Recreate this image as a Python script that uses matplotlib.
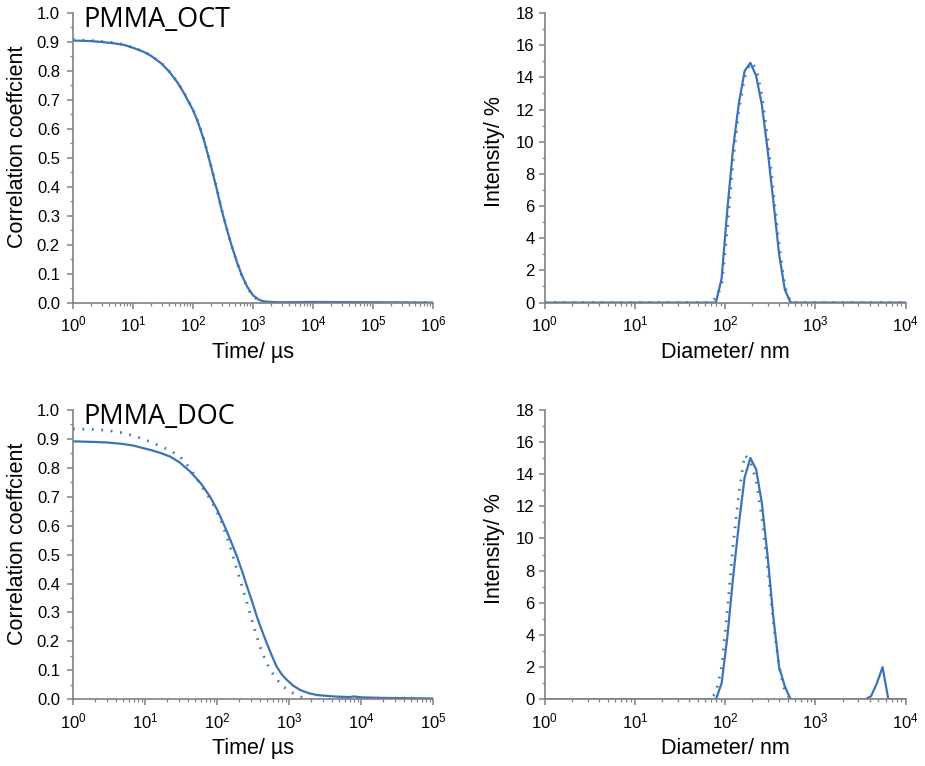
import numpy as np
import matplotlib.pyplot as plt
from matplotlib.ticker import LogLocator, MultipleLocator, NullFormatter

plt.rcParams['font.family'] = ['Liberation Sans', 'DejaVu Sans']
plt.rcParams['mathtext.fontset'] = 'custom'
plt.rcParams['mathtext.rm'] = 'Liberation Sans'

# correlation functions, PMMA_OCT
t_oct = [1, 2, 3, 5, 7, 10, 15, 20, 30, 40, 55, 70, 85, 100, 120, 150, 175, 200, 250, 300,
         370, 450, 550, 650, 800, 1000, 1250, 1500, 2000, 3000, 1e4, 1e5, 1e6]
g_oct_meas = [0.905, 0.903, 0.900, 0.895, 0.890, 0.880, 0.866, 0.852, 0.825, 0.798, 0.760, 0.725,
              0.692, 0.665, 0.625, 0.565, 0.515, 0.470, 0.390, 0.320, 0.250, 0.190, 0.135, 0.095,
              0.055, 0.025, 0.010, 0.004, 0.002, 0.001, 0.002, 0.001, 0.0]
g_oct_fit = [0.908, 0.905, 0.902, 0.897, 0.891, 0.881, 0.867, 0.853, 0.826, 0.799, 0.762, 0.727,
             0.694, 0.667, 0.627, 0.567, 0.517, 0.472, 0.392, 0.322, 0.252, 0.190, 0.134, 0.093,
             0.052, 0.022, 0.007, 0.002, 0.0, 0.0, 0.0, 0.0, 0.0]

# correlation functions, PMMA_DOC
t_doc = [1, 2, 3, 5, 7, 10, 12, 16, 22.5, 30, 42.6, 60, 80, 100, 123, 155, 190, 225, 261, 310,
         359, 420, 493, 580, 678, 800, 937, 1150, 1440, 1900, 2450, 3750, 5000, 7000, 8000,
         1e4, 2e4, 5e4, 1e5]
g_doc_meas = [0.891, 0.889, 0.887, 0.882, 0.876, 0.866, 0.861, 0.852, 0.838, 0.819, 0.786, 0.745,
              0.700, 0.656, 0.607, 0.548, 0.492, 0.440, 0.390, 0.335, 0.285, 0.238, 0.193, 0.150,
              0.112, 0.085, 0.067, 0.047, 0.032, 0.021, 0.015, 0.011, 0.009, 0.008, 0.010,
              0.007, 0.005, 0.004, 0.003]
t_doc_fit = [1, 2, 3, 5, 7, 10, 13, 18, 24, 31, 38, 47, 60, 81, 111, 153, 180, 210, 250, 288,
             340, 397, 470, 550, 700, 841, 1150, 1590, 2000, 1e4, 1e5]
g_doc_fit = [0.934, 0.932, 0.929, 0.920, 0.910, 0.897, 0.885, 0.870, 0.855, 0.837, 0.812, 0.780,
             0.740, 0.690, 0.625, 0.526, 0.465, 0.411, 0.350, 0.297, 0.235, 0.181, 0.135, 0.101,
             0.065, 0.043, 0.021, 0.005, 0.0, 0.0, 0.0]

# intensity size distributions
d_oct = [1, 68.06, 78.82, 91.28, 105.7, 122.4, 141.8, 164.2, 190.1, 220.2, 255.0, 295.3, 342.0,
         396.1, 458.7, 531.2, 615.1, 10000]
i_oct_meas = [0, 0, 0, 1.5, 5.8, 9.6, 12.4, 14.4, 14.9, 14.1, 12.3, 9.5, 6.3, 3.0, 0.8, 0, 0, 0]
i_oct_fit = [0, 0, 0.3, 1.0, 4.6, 8.8, 12.0, 14.0, 14.9, 14.6, 12.9, 10.2, 6.9, 3.6, 1.0, 0, 0, 0]

d_doc = [1, 68.06, 78.82, 91.28, 105.7, 122.4, 141.8, 164.2, 190.1, 220.2, 255.0, 295.3, 342.0,
         396.1, 458.7, 531.2, 615.1, 3091, 3580, 4145, 4801, 5560, 6439, 7456, 10000]
i_doc_meas = [0, 0, 0, 1.0, 3.9, 7.6, 10.9, 13.8, 15.0, 14.3, 12.2, 8.9, 5.1, 2.0, 0.8, 0, 0,
              0, 0, 0.2, 1.0, 2.0, 0, 0, 0]
d_doc_fit = [1, 68.06, 78.82, 91.28, 105.7, 122.4, 141.8, 164.2, 190.1, 220.2, 255.0, 295.3,
             342.0, 396.1, 458.7, 531.2, 615.1, 10000]
i_doc_fit = [0, 0, 0.4, 2.0, 5.6, 9.6, 12.8, 15.2, 14.8, 13.6, 11.3, 8.2, 4.8, 2.0, 0.5, 0, 0, 0]

blue = '#3b73b9'
grey = '#808080'
dots = (0, (0.6, 2.8))

fig = plt.figure(figsize=(9.25, 7.66), dpi=100)
ax1 = fig.add_axes([0.079, 0.605, 0.389, 0.378])
ax2 = fig.add_axes([0.589, 0.605, 0.390, 0.378])
ax3 = fig.add_axes([0.079, 0.087, 0.389, 0.378])
ax4 = fig.add_axes([0.589, 0.087, 0.390, 0.378])


def style(ax, xmax, ymax, ystep, yfmt, ypad):
    ax.set_xscale('log')
    ax.set_xlim(1, xmax)
    ax.set_ylim(0, ymax)
    for s in ['top', 'right']:
        ax.spines[s].set_visible(False)
    for s in ['left', 'bottom']:
        ax.spines[s].set_color(grey)
        ax.spines[s].set_linewidth(1.2)
    ax.xaxis.set_major_locator(LogLocator(base=10, numticks=10))
    ax.xaxis.set_minor_locator(LogLocator(base=10, subs=np.arange(2, 10), numticks=20))
    ax.xaxis.set_minor_formatter(NullFormatter())
    ax.yaxis.set_major_locator(MultipleLocator(ystep))
    ax.yaxis.set_minor_locator(MultipleLocator(ystep / 2))
    ax.yaxis.set_major_formatter(yfmt)
    ax.tick_params(which='major', length=4, width=1.1, color=grey, labelsize=12)
    ax.tick_params(which='minor', length=2, width=0.9, color=grey)
    ax.tick_params(axis='x', which='major', pad=4.5)
    ax.tick_params(axis='y', which='major', pad=ypad)


style(ax1, 1e6, 1.0, 0.1, '{x:.1f}', 5.5)
style(ax2, 1e4, 18, 2, '{x:.0f}', 3.5)
style(ax3, 1e5, 1.0, 0.1, '{x:.1f}', 5.5)
style(ax4, 1e4, 18, 2, '{x:.0f}', 3.5)

ax1.plot(t_oct, g_oct_meas, color=blue, lw=1.6)
ax1.plot(t_oct, g_oct_fit, color=blue, lw=2, linestyle=dots)
ax3.plot(t_doc, g_doc_meas, color=blue, lw=1.6)
ax3.plot(t_doc_fit, g_doc_fit, color=blue, lw=2, linestyle=dots)

ax2.plot(d_oct, i_oct_meas, color=blue, lw=1.6)
ax2.plot(d_oct, i_oct_fit, color=blue, lw=2, linestyle=dots)
ax4.plot(d_doc, i_doc_meas, color=blue, lw=1.6)
ax4.plot(d_doc_fit, i_doc_fit, color=blue, lw=2, linestyle=dots)

for ax in [ax1, ax3]:
    ax.set_xlabel('Time/ µs', fontsize=15.5)
    ax.set_ylabel('Correlation coeffcient', fontsize=15.5)
    ax.xaxis.set_label_coords(0.5, -0.135)
    ax.yaxis.set_label_coords(-0.125, 0.538)
for ax in [ax2, ax4]:
    ax.set_xlabel('Diameter/ nm', fontsize=15.5)
    ax.set_ylabel('Intensity/ %', fontsize=15.5)
    ax.xaxis.set_label_coords(0.5, -0.135)
    ax.yaxis.set_label_coords(-0.11, 0.52)

ax1.text(0.03, 0.952, 'PMMA_OCT', transform=ax1.transAxes, fontsize=19.5,
         family=['Open Sans', 'DejaVu Sans'])
ax3.text(0.03, 0.952, 'PMMA_DOC', transform=ax3.transAxes, fontsize=19.5,
         family=['Open Sans', 'DejaVu Sans'])

fig.savefig('out.png', dpi=100)
